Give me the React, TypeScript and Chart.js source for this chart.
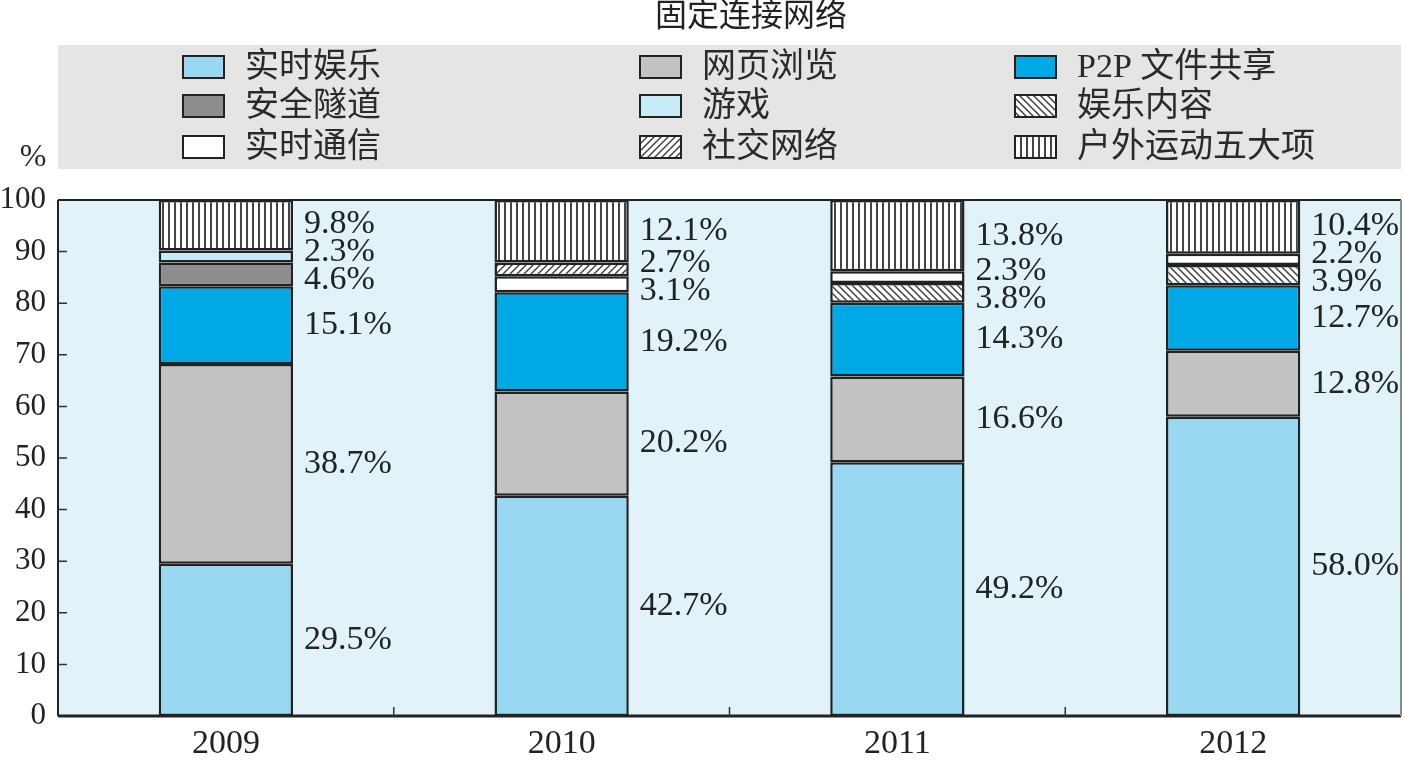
import React, { useEffect, useRef } from 'react';
import { Chart, registerables } from 'chart.js';

Chart.register(...registerables);

const chartTitle = '固定连接网络';
const unitLabel = '%';
const years = ['2009', '2010', '2011', '2012'];
const seriesNames = ['实时娱乐', '网页浏览', 'P2P 文件共享', '安全隧道', '游戏', '娱乐内容', '实时通信', '社交网络', '户外运动五大项'];
const realtimeEntertainment = [29.5, 42.7, 49.2, 58.0];
const webBrowsing = [38.7, 20.2, 16.6, 12.8];
const p2pSharing = [15.1, 19.2, 14.3, 12.7];
const secureTunnel = [4.6, null, null, null];
const gaming = [2.3, null, null, null];
const entertainmentContent = [null, null, 3.8, 3.9];
const realtimeComm = [null, 3.1, 2.3, 2.2];
const socialNetwork = [null, 2.7, null, null];
const outdoorTop5 = [9.8, 12.1, 13.8, 10.4];
const yMin = 0;
const yMax = 100;
const yStep = 10;

const SERIF = "'Liberation Serif', 'Noto Sans CJK SC', serif";

function makePattern(kind: 'vertical' | 'slash' | 'backslash'): CanvasPattern | string {
  const c = document.createElement('canvas');
  const s = kind === 'vertical' ? 6 : 7;
  c.width = s;
  c.height = s;
  const ctx = c.getContext('2d');
  if (!ctx) return '#fff';
  ctx.fillStyle = '#ffffff';
  ctx.fillRect(0, 0, s, s);
  ctx.strokeStyle = '#3a3a3a';
  if (kind === 'vertical') {
    ctx.fillStyle = '#444';
    ctx.fillRect(0, 0, 2, s);
  } else {
    ctx.lineWidth = 1.4;
    ctx.beginPath();
    if (kind === 'slash') {
      ctx.moveTo(-1, s + 1); ctx.lineTo(s + 1, -1);
      ctx.moveTo(-1, 1); ctx.lineTo(1, -1);
      ctx.moveTo(s - 1, s + 1); ctx.lineTo(s + 1, s - 1);
    } else {
      ctx.moveTo(-1, -1); ctx.lineTo(s + 1, s + 1);
      ctx.moveTo(s - 1, -1); ctx.lineTo(s + 1, 1);
      ctx.moveTo(-1, s - 1); ctx.lineTo(1, s + 1);
    }
    ctx.stroke();
  }
  const p = ctx.createPattern(c, 'repeat');
  return p || '#fff';
}

export default function App() {
  const ref = useRef<HTMLCanvasElement | null>(null);

  useEffect(() => {
    document.body.style.margin = '0';
    const canvas = ref.current;
    if (!canvas) return;

    const fills: any[] = [
      '#9ad8f1',
      '#c2c2c2',
      '#00a8e6',
      '#8d8d8d',
      '#c8ebf8',
      makePattern('backslash'),
      '#ffffff',
      makePattern('slash'),
      makePattern('vertical'),
    ];
    const values = [
      realtimeEntertainment, webBrowsing, p2pSharing, secureTunnel, gaming,
      entertainmentContent, realtimeComm, socialNetwork, outdoorTop5,
    ];

    const decor = {
      id: 'decor',
      beforeDraw(chart: any) {
        const { ctx, chartArea: a } = chart;
        ctx.save();
        ctx.fillStyle = '#ffffff';
        ctx.fillRect(0, 0, chart.width, chart.height);
        ctx.fillStyle = '#e1f2f9';
        ctx.fillRect(a.left, a.top, a.right - a.left, a.bottom - a.top);
        // title
        ctx.fillStyle = '#222';
        ctx.font = `32px ${SERIF}`;
        ctx.textAlign = 'center';
        ctx.textBaseline = 'middle';
        ctx.fillText(chartTitle, 751, 18);
        // legend box
        ctx.fillStyle = '#e5e5e5';
        ctx.fillRect(a.left, 45, a.right - a.left, 124);
        const colX = [183, 640, 1015];
        const rowY = [67, 106, 147];
        ctx.font = `34px ${SERIF}`;
        ctx.textAlign = 'left';
        chart.data.datasets.forEach((ds: any, i: number) => {
          const cx = colX[i % 3];
          const cy = rowY[Math.floor(i / 3)];
          ctx.fillStyle = ds.backgroundColor;
          ctx.fillRect(cx, cy - 11, 41, 22);
          ctx.strokeStyle = '#222';
          ctx.lineWidth = 2;
          ctx.strokeRect(cx, cy - 11, 41, 22);
          ctx.fillStyle = '#2a2a2a';
          ctx.fillText(ds.label, cx + 62, cy + 1);
        });
        // unit
        ctx.font = `32px ${SERIF}`;
        ctx.textAlign = 'center';
        ctx.fillText(unitLabel, 33, 158);
        ctx.restore();
      },
      afterDatasetsDraw(chart: any) {
        const { ctx, chartArea: a } = chart;
        const ys = chart.scales.y;
        const xs = chart.scales.x;
        ctx.save();
        // frame
        ctx.strokeStyle = '#222';
        ctx.lineWidth = 2;
        ctx.beginPath();
        ctx.moveTo(a.left, a.top); ctx.lineTo(a.right, a.top);
        ctx.moveTo(a.left, a.top); ctx.lineTo(a.left, a.bottom);
        ctx.stroke();
        ctx.lineWidth = 3;
        ctx.beginPath();
        ctx.moveTo(a.left, a.bottom); ctx.lineTo(a.right, a.bottom);
        ctx.stroke();
        ctx.strokeStyle = '#8a8a8a';
        ctx.lineWidth = 2;
        ctx.beginPath();
        ctx.moveTo(a.right, a.top); ctx.lineTo(a.right, a.bottom);
        ctx.stroke();
        // inner ticks
        ctx.strokeStyle = '#333';
        ctx.lineWidth = 1.5;
        ctx.beginPath();
        for (let v = yMin + yStep; v < yMax; v += yStep) {
          const py = ys.getPixelForValue(v);
          ctx.moveTo(a.left, py); ctx.lineTo(a.left + 9, py);
        }
        for (let i = 1; i < years.length; i++) {
          const px = (xs.getPixelForValue(i - 1) + xs.getPixelForValue(i)) / 2;
          ctx.moveTo(px, a.bottom); ctx.lineTo(px, a.bottom - 9);
        }
        ctx.stroke();
        // value labels
        ctx.fillStyle = '#222';
        ctx.font = `34px ${SERIF}`;
        ctx.textAlign = 'left';
        ctx.textBaseline = 'middle';
        for (let j = 0; j < years.length; j++) {
          const items: { y: number; x: number; t: string }[] = [];
          chart.data.datasets.forEach((ds: any, i: number) => {
            const v = ds.data[j];
            if (v === null || v === undefined) return;
            const el = chart.getDatasetMeta(i).data[j];
            if (!el) return;
            items.push({ y: (el.y + el.base) / 2, x: el.x + el.width / 2 + 11, t: `${v.toFixed(1)}%` });
          });
          items.sort((p, q) => p.y - q.y);
          const minGap = 28;
          for (let it = 0; it < 60; it++) {
            for (let k = 1; k < items.length; k++) {
              const gap = items[k].y - items[k - 1].y;
              if (gap < minGap) {
                const d = (minGap - gap) / 2;
                items[k - 1].y -= d;
                items[k].y += d;
              }
            }
          }
          items.forEach((p) => ctx.fillText(p.t, p.x, p.y));
        }
        ctx.restore();
      },
    };

    const chart = new Chart(canvas, {
      type: 'bar',
      data: {
        labels: years,
        datasets: seriesNames.map((name, i) => ({
          label: name,
          data: values[i] as any,
          backgroundColor: fills[i],
          borderColor: '#222',
          borderWidth: 2.5,
          borderSkipped: false,
          barPercentage: 0.4,
          categoryPercentage: 1,
        })),
      },
      options: {
        responsive: false,
        animation: false,
        devicePixelRatio: 1,
        layout: { padding: { top: 200, right: 3, left: 0, bottom: 0 } },
        plugins: {
          legend: { display: false },
          title: { display: false },
          tooltip: { enabled: false },
        },
        scales: {
          x: {
            stacked: true,
            grid: { display: false, drawTicks: false },
            border: { display: false },
            ticks: { color: '#222', font: { family: SERIF, size: 34 }, padding: 8 },
            afterFit: (s: any) => { s.height = 50; },
          },
          y: {
            stacked: true,
            min: yMin,
            max: yMax,
            grid: { display: false, drawTicks: false },
            border: { display: false },
            ticks: { stepSize: yStep, color: '#222', font: { family: SERIF, size: 31 }, padding: 12 },
            afterFit: (s: any) => { s.width = 58; },
          },
        },
      },
      plugins: [decor],
    });
    return () => chart.destroy();
  }, []);

  return (
    <div style={{ position: 'absolute', left: 0, top: 0, width: 1404, height: 766 }}>
      <canvas ref={ref} width={1404} height={766} style={{ display: 'block', width: 1404, height: 766 }} />
    </div>
  );
}
